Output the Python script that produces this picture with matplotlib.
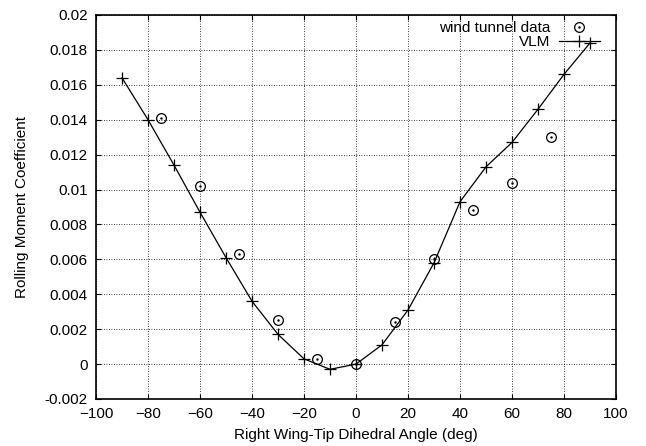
import matplotlib
matplotlib.use("Agg")
import matplotlib.pyplot as plt
from matplotlib.lines import Line2D

plt.rcParams["font.family"] = ["Liberation Sans", "DejaVu Sans"]
plt.rcParams["font.size"] = 11

# VLM prediction
vlm_angle = [-90, -80, -70, -60, -50, -40, -30, -20, -10, 0,
             10, 20, 30, 40, 50, 60, 70, 80, 90]
vlm_cl = [0.0164, 0.0140, 0.0114, 0.0087, 0.0061, 0.0036, 0.0017, 0.0003, -0.0003, 0.0,
          0.0011, 0.0031, 0.0058, 0.0093, 0.0113, 0.0127, 0.0146, 0.0166, 0.0184]

# wind tunnel measurements
wt_angle = [-75, -60, -45, -30, -15, 0, 15, 30, 45, 60, 75]
wt_cl = [0.0141, 0.0102, 0.0063, 0.0025, 0.0003, 0.0, 0.0024, 0.0060, 0.0088, 0.0104, 0.0130]

xticks = [-100, -80, -60, -40, -20, 0, 20, 40, 60, 80, 100]
yticks = [-0.002, 0, 0.002, 0.004, 0.006, 0.008, 0.01, 0.012, 0.014, 0.016, 0.018, 0.02]
ytick_labels = ["-0.002", "0", "0.002", "0.004", "0.006", "0.008", "0.01",
                "0.012", "0.014", "0.016", "0.018", "0.02"]

fig = plt.figure(figsize=(6.46, 4.46), dpi=100)
ax = fig.add_axes([0.1486, 0.1054, 0.805, 0.861])

ax.plot(wt_angle, wt_cl, ls="none", marker="o", ms=7, mfc="none", mec="black", mew=0.9)
ax.plot(wt_angle, wt_cl, ls="none", marker=".", ms=1.5, color="black")
ax.plot(vlm_angle, vlm_cl, color="black", lw=0.9, marker="+", ms=9, mew=0.9)

ax.set_xlim(-100, 100)
ax.set_ylim(-0.002, 0.02)
ax.set_xticks(xticks)
ax.set_yticks(yticks)
ax.set_yticklabels(ytick_labels)
ax.tick_params(direction="in", top=True, right=True, length=3.5, width=0.8, pad=6)
ax.grid(True, color="black", ls=(0, (1, 2)), lw=0.6)
for s in ax.spines.values():
    s.set_linewidth(1.2)

ax.set_xlabel("Right Wing-Tip Dihedral Angle (deg)")
ax.set_ylabel("Rolling Moment Coefficient")
ax.xaxis.set_label_coords(0.5, -0.075)
ax.yaxis.set_label_coords(-0.128, 0.5)

wt_handle = (Line2D([], [], ls="none", marker="o", ms=7, mfc="none", mec="black", mew=0.9),
             Line2D([], [], ls="none", marker=".", ms=1.5, color="black"))
vlm_handle = Line2D([], [], color="black", lw=0.9, marker="+", ms=9, mew=0.9)
ax.legend([wt_handle, vlm_handle], ["wind tunnel data", "VLM"], loc="upper right",
          frameon=False, markerfirst=False, handlelength=2.7, labelspacing=0.0,
          borderaxespad=0.0, handletextpad=0.55, numpoints=1,
          bbox_to_anchor=(0.981, 1.0))

fig.savefig("out.png", dpi=100)
